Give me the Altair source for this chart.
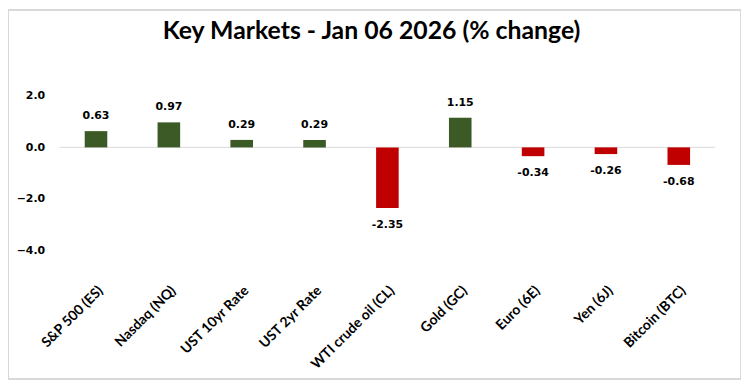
import altair as alt
import pandas as pd

categories = ["S&P 500 (ES)", "Nasdaq (NQ)", "UST 10yr Rate", "UST 2yr Rate",
              "WTI crude oil (CL)", "Gold (GC)", "Euro (6E)", "Yen (6J)", "Bitcoin (BTC)"]
values = [0.63, 0.97, 0.29, 0.29, -2.35, 1.15, -0.34, -0.26, -0.68]

df = pd.DataFrame({"cat": categories, "val": values})
df["sign"] = ["pos" if v >= 0 else "neg" for v in values]
df["lbl"] = [f"{v:.2f}" for v in values]

W, H = 661, 156

x = alt.X("cat:N", sort=categories, title=None,
          scale=alt.Scale(paddingInner=0.69, paddingOuter=0.345),
          axis=alt.Axis(labelAngle=-45, domain=False, ticks=False, labelPadding=33,
                        labelFont="Lato", labelFontWeight="bold", labelFontSize=14,
                        labelColor="#000000"))
y = alt.Y("val:Q", title=None,
          scale=alt.Scale(domain=[-4, 2], nice=False),
          axis=alt.Axis(values=[-4, -2, 0, 2], format=".1f", grid=False, domain=False,
                        ticks=False, labelPadding=15, labelFont="DejaVu Sans",
                        labelFontWeight="bold", labelFontSize=11, labelColor="#000000"))

base = alt.Chart(df)

border = base.mark_rect(fill=None, stroke="#d9d9d9", strokeWidth=1).encode(
    x=alt.value(-51.5), x2=alt.value(W + 25.5), y=alt.value(-86.5), y2=alt.value(H + 129.5)
)

zero = alt.Chart(pd.DataFrame({"z": [0]})).mark_rule(color="#d9d9d9", strokeWidth=1).encode(
    y=alt.Y("z:Q", scale=alt.Scale(domain=[-4, 2], nice=False))
)

bars = base.mark_bar().encode(
    x=x, y=y,
    color=alt.Color("sign:N", scale=alt.Scale(domain=["pos", "neg"], range=["#3b5a26", "#c00000"]),
                    legend=None)
)

lbl_pos = base.transform_filter("datum.val >= 0").mark_text(
    font="DejaVu Sans", fontWeight="bold", fontSize=11, dy=-15, baseline="middle", color="#000000"
).encode(x=alt.X("cat:N", sort=categories), y="val:Q", text="lbl:N")
lbl_neg = base.transform_filter("datum.val < 0").mark_text(
    font="DejaVu Sans", fontWeight="bold", fontSize=11, dy=17, baseline="middle", color="#000000"
).encode(x=alt.X("cat:N", sort=categories), y="val:Q", text="lbl:N")

chart = alt.layer(border, zero, bars, lbl_pos, lbl_neg).properties(
    width=W, height=H,
    background="#ffffff",
    title=alt.TitleParams("Key Markets - Jan 06 2026 (% change)", anchor="middle",
                          font="Lato", fontWeight="bold", fontSize=25, color="#000000",
                          dx=-16, offset=-35),
    autosize=alt.AutoSizeParams(type="none"),
    padding={"left": 52, "top": 87, "right": 26, "bottom": 130},
).configure_view(strokeWidth=0, stroke="transparent")

chart.save("out.html", embed_options={"renderer": "svg", "actions": False})
